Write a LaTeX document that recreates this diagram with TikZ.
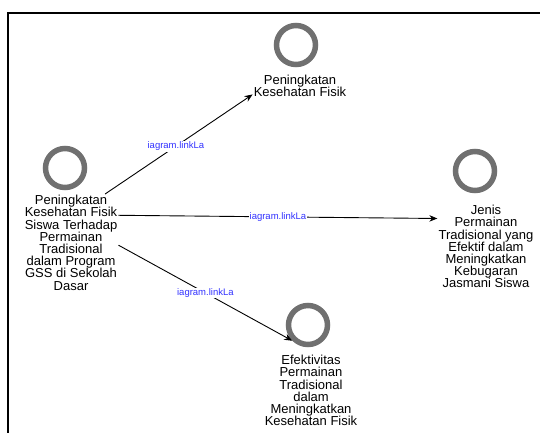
\documentclass[tikz,border=0pt]{standalone}
\usepackage{fontspec}
\setmainfont{Liberation Sans}
\usetikzlibrary{arrows.meta}
\definecolor{ringgray}{RGB}{112,112,112}
\definecolor{linkblue}{RGB}{50,50,255}
\tikzset{
  ring/.style={circle,draw=ringgray,line width=5.5pt,minimum size=39pt,inner sep=0pt},
  caption/.style={align=center,inner sep=1pt,anchor=north,font=\fontsize{13}{12.2}\selectfont},
  link/.style={draw=black,line width=0.9pt,-{Stealth[length=8pt,width=6.5pt]}},
  linklabel/.style={fill=white,inner sep=1pt,text=linkblue,font=\fontsize{9.5}{10}\selectfont}
}
\begin{document}
\begin{tikzpicture}[x=1pt,y=-1pt]
\useasboundingbox (0,0) rectangle (540,432);
\draw[line width=2pt] (8,440) -- (8,13) -- (545,13);
% nodes
\node[ring] (cRoot) at (65,168) {};
\node[caption] (tRoot) at (71,194) {Peningkatan\\Kesehatan Fisik\\Siswa Terhadap\\Permainan\\Tradisional\\dalam Program\\GSS di Sekolah\\Dasar};
\node[ring] (cTop) at (296,45) {};
\node[caption] (tTop) at (300,74) {Peningkatan\\Kesehatan Fisik};
\node[ring] (cRight) at (475,171) {};
\node[caption] (tRight) at (486,204) {Jenis\\Permainan\\Tradisional yang\\Efektif dalam\\Meningkatkan\\Kebugaran\\Jasmani Siswa};
\node[ring] (cBot) at (308,325) {};
\node[caption] (tBot) at (311,354) {Efektivitas\\Permainan\\Tradisional\\dalam\\Meningkatkan\\Kesehatan Fisik};
% connectors
\draw[link] (tRoot.55) -- node[linklabel,pos=0.48] {iagram.linkLa} (tTop.190);
\draw[link] (tRoot.30) -- node[linklabel,pos=0.5] {iagram.linkLa} (tRight.150);
\draw[link] (tRoot.-3) -- node[linklabel,pos=0.5] {iagram.linkLa} (cBot.south west);
\end{tikzpicture}
\end{document}
